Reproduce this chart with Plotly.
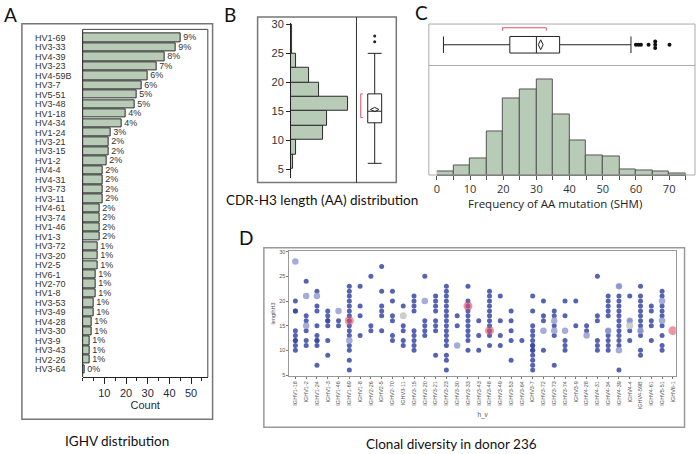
import plotly.graph_objects as go

W, H = 696, 454

# ---------------- Panel A: IGHV distribution ----------------
a_genes = ["HV1-69", "HV3-33", "HV4-39", "HV3-23", "HV4-59B", "HV3-7", "HV5-51", "HV3-48",
           "HV1-18", "HV4-34", "HV1-24", "HV3-21", "HV3-15", "HV1-2", "HV4-4", "HV4-31",
           "HV3-73", "HV3-11", "HV4-61", "HV3-74", "HV1-46", "HV1-3", "HV3-72", "HV3-20",
           "HV2-5", "HV6-1", "HV2-70", "HV1-8", "HV3-53", "HV3-49", "HV4-28", "HV3-30",
           "HV3-9", "HV3-43", "HV2-26", "HV3-64"]
a_counts = [45, 43, 38, 34, 30, 27, 25, 24, 20, 18, 13, 12, 12, 11, 9, 9, 9, 9, 8, 8, 8, 8,
            7, 7, 7, 6, 6, 6, 5, 5, 4, 4, 3, 3, 3, 1]
a_ticks = [10, 20, 30, 40, 50]

# ---------------- Panel B: CDR-H3 length ----------------
b_bin_start = [5, 7.5, 10, 12.5, 15, 17.5, 20, 22.5, 25, 27.5]
b_counts = [6, 13, 84, 95, 149, 74, 48, 12, 3, 2]
b_bin_width = 2.5
b_q1, b_median, b_q3 = 13, 15, 18
b_low, b_high, b_mean = 6, 25, 15.3
b_outliers = [27, 28]
b_shortest_half = [13.9, 18]
b_ticks = [5, 10, 15, 20, 25, 30]

# ---------------- Panel C: SHM frequency ----------------
c_bin_start = [0, 5, 10, 15, 20, 25, 30, 35, 40, 45, 50, 55, 60, 65, 70]
c_counts = [4, 10, 17, 44, 77, 86, 97, 61, 35, 20, 19, 6, 5, 4, 2]
c_bin_width = 5
c_q1, c_median, c_q3 = 22, 30, 37
c_low, c_high, c_mean = 2, 58.5, 31.3
c_outliers = [60.0, 60.8, 61.5, 63.8, 65.8, 65.8, 65.8, 70.1]
c_outlier_jitter = [0, 0, 0, 0, 0.16, 0, -0.16, 0]
c_shortest_half = [19.8, 33]
c_ticks = [0, 10, 20, 30, 40, 50, 60, 70]

# ---------------- Panel D: clonal diversity ----------------
d_genes = ["IGHV1-18", "IGHV1-2", "IGHV1-24", "IGHV1-3", "IGHV1-46", "IGHV1-69", "IGHV1-8",
           "IGHV2-26", "IGHV2-5", "IGHV2-70", "IGHV3-11", "IGHV3-15", "IGHV3-20", "IGHV3-21",
           "IGHV3-23", "IGHV3-30", "IGHV3-33", "IGHV3-43", "IGHV3-48", "IGHV3-49", "IGHV3-53",
           "IGHV3-64", "IGHV3-7", "IGHV3-72", "IGHV3-73", "IGHV3-74", "IGHV3-9", "IGHV4-28",
           "IGHV4-31", "IGHV4-34", "IGHV4-39", "IGHV4-4", "IGHV4-59B", "IGHV4-61", "IGHV5-51",
           "IGHV6-1"]
d_dark = [
    [20, 18, 18, 14, 13, 12, 12, 11, 10],
    [24, 17, 16, 14, 12, 11],
    [22, 19, 18, 15, 13, 12, 12, 11, 7],
    [18, 17, 16, 16, 15, 12, 9],
    [16, 15],
    [23, 22, 21, 20, 19, 18, 17, 16, 15, 14, 13, 11, 10, 8, 6],
    [23, 19, 17, 13],
    [25, 15, 14],
    [27, 22, 19, 18, 17, 14],
    [22, 20, 17, 16, 13, 12],
    [19, 15, 14, 12, 11],
    [21, 20, 19, 18, 14, 13, 12, 11, 10],
    [25, 16, 15, 14, 13],
    [21, 20, 19, 18, 16, 15, 14, 9],
    [23, 22, 21, 20, 19, 18, 17, 16, 15, 14, 13, 12, 11, 9, 8, 6],
    [17, 15],
    [23, 20, 19, 18, 17, 16, 15, 14, 13, 12, 10],
    [16, 13, 10],
    [22, 21, 20, 19, 18, 17, 16, 15, 14, 13, 11],
    [21, 16, 13, 11],
    [18, 16, 14, 12, 8],
    [12],
    [21, 18, 15, 14, 13, 12, 11, 11, 10, 10, 9, 8, 7, 6],
    [20, 17, 16, 10],
    [18, 17, 15, 13, 7],
    [20, 17, 12, 11, 10],
    [20, 15],
    [15, 14],
    [25, 17, 16, 12, 11, 10],
    [21, 20, 19, 18, 17, 14, 13, 12, 11, 10],
    [23, 21, 20, 19, 18, 17, 16, 15, 14, 13, 12, 11, 6],
    [21, 16, 14, 12],
    [23, 21, 20, 19, 18, 17, 16, 15, 14, 13, 10, 9],
    [19, 18, 16, 15, 12],
    [22, 21, 19, 18, 17, 15, 13, 11, 10],
    [],
]
d_light = {"IGHV1-18": [28], "IGHV1-2": [21, 15], "IGHV1-24": [21], "IGHV1-46": [18],
           "IGHV1-69": [12], "IGHV3-20": [20], "IGHV3-30": [11], "IGHV3-72": [14],
           "IGHV3-73": [16, 14], "IGHV3-74": [14], "IGHV4-28": [13], "IGHV4-34": [14],
           "IGHV4-39": [23, 10], "IGHV4-4": [16], "IGHV4-59B": [14], "IGHV5-51": [20, 16]}
d_gray = {"IGHV3-11": [17], "IGHV4-4": [15]}
d_red = {"IGHV1-69": [16], "IGHV3-33": [19], "IGHV3-48": [14], "IGHV6-1": [14]}
d_ticks = [5, 10, 15, 20, 25, 30]


def px(x):
    return x / W


def py(y):
    return 1 - y / H


CHART_FONT = "Liberation Sans"
CAP_FONT = "Lato"
SAGE = "#b8cbb6"

fig = go.Figure()

# ---- A bars ----
total = sum(a_counts)
a_pct = [f"{round(100 * c / total)}%" for c in a_counts]
fig.add_trace(go.Bar(
    y=a_genes, x=a_counts, orientation="h", xaxis="x", yaxis="y", width=0.88,
    marker=dict(color=SAGE, line=dict(color="#2b2b2b", width=1)),
    text=a_pct, textposition="outside", constraintext="none", cliponaxis=False,
    textfont=dict(family=CHART_FONT, size=9, color="#333"), showlegend=False,
    hoverinfo="skip"))

# ---- B histogram ----
b_centers = [s + b_bin_width / 2 for s in b_bin_start]
fig.add_trace(go.Bar(
    y=b_centers, x=b_counts, orientation="h", width=b_bin_width, xaxis="x2", yaxis="y2",
    marker=dict(color=SAGE, line=dict(color="#2b2b2b", width=1)), showlegend=False))

# ---- B box ----
fig.add_trace(go.Box(
    x=[0], q1=[b_q1], median=[b_median], q3=[b_q3], lowerfence=[b_low], upperfence=[b_high],
    orientation="v", width=0.7, whiskerwidth=1, fillcolor="white",
    line=dict(color="#222", width=1), boxpoints=False, xaxis="x3", yaxis="y3",
    showlegend=False))
fig.add_trace(go.Scatter(
    x=[0], y=[b_mean], mode="markers", xaxis="x3", yaxis="y3",
    marker=dict(symbol="diamond-wide-open", size=6, color="#222", line=dict(width=1)),
    showlegend=False))
fig.add_trace(go.Scatter(
    x=[0] * len(b_outliers), y=b_outliers, mode="markers", xaxis="x3", yaxis="y3",
    marker=dict(size=3, color="#222"), showlegend=False))
fig.add_trace(go.Scatter(
    x=[-0.6, -0.7, -0.7, -0.6], y=[b_shortest_half[1], b_shortest_half[1],
                                    b_shortest_half[0], b_shortest_half[0]],
    mode="lines", xaxis="x3", yaxis="y3", line=dict(color="#e0506a", width=1),
    showlegend=False))

# ---- C box ----
fig.add_trace(go.Box(
    y=[0], q1=[c_q1], median=[c_median], q3=[c_q3], lowerfence=[c_low], upperfence=[c_high],
    orientation="h", width=0.8, whiskerwidth=1, fillcolor="white",
    line=dict(color="#222", width=1), boxpoints=False, xaxis="x4", yaxis="y4",
    showlegend=False))
fig.add_trace(go.Scatter(
    x=[c_mean], y=[0], mode="markers", xaxis="x4", yaxis="y4",
    marker=dict(symbol="diamond-tall-open", size=7, color="#222", line=dict(width=1)),
    showlegend=False))
fig.add_trace(go.Scatter(
    x=c_outliers, y=c_outlier_jitter, mode="markers", xaxis="x4", yaxis="y4",
    marker=dict(size=4, color="#111"), showlegend=False))
fig.add_trace(go.Scatter(
    x=[c_shortest_half[0], c_shortest_half[0], c_shortest_half[1], c_shortest_half[1]],
    y=[0.68, 0.82, 0.82, 0.68], mode="lines", xaxis="x4", yaxis="y4",
    line=dict(color="#e0506a", width=1), showlegend=False))

# ---- C histogram ----
c_centers = [s + c_bin_width / 2 for s in c_bin_start]
fig.add_trace(go.Bar(
    x=c_centers, y=c_counts, width=c_bin_width, xaxis="x5", yaxis="y5",
    marker=dict(color=SAGE, line=dict(color="#555", width=1)), showlegend=False))

# ---- D scatter ----
dx, dy = [], []
for g, vals in zip(d_genes, d_dark):
    for v in vals:
        dx.append(g)
        dy.append(v)
fig.add_trace(go.Scatter(
    x=dx, y=dy, mode="markers", xaxis="x6", yaxis="y6",
    marker=dict(size=5, color="rgba(55,72,165,0.85)"), showlegend=False))


def flat(d):
    xs, ys = [], []
    for g, vals in d.items():
        for v in vals:
            xs.append(g)
            ys.append(v)
    return xs, ys


lx, ly = flat(d_light)
fig.add_trace(go.Scatter(x=lx, y=ly, mode="markers", xaxis="x6", yaxis="y6",
                         marker=dict(size=6.5, color="rgba(150,158,212,0.85)"),
                         showlegend=False))
gx, gy = flat(d_gray)
fig.add_trace(go.Scatter(x=gx, y=gy, mode="markers", xaxis="x6", yaxis="y6",
                         marker=dict(size=7, color="rgba(200,200,200,0.9)"),
                         showlegend=False))
rx, ry = flat(d_red)
fig.add_trace(go.Scatter(x=rx, y=ry, mode="markers", xaxis="x6", yaxis="y6",
                         marker=dict(size=9, color="rgba(222,80,100,0.6)"),
                         showlegend=False))

axis_font = dict(family=CHART_FONT, size=11, color="#2a2a3a")

fig.update_layout(
    width=W, height=H, autosize=False, margin=dict(l=0, r=0, t=0, b=0),
    paper_bgcolor="white", plot_bgcolor="white", showlegend=False, bargap=0,
    # A
    xaxis=dict(domain=[px(80), px(205.7)], range=[0, 57.7], anchor="y",
               tickvals=a_ticks, ticks="outside", ticklen=6, tickcolor="#222",
               minor=dict(dtick=5, tick0=0, ticks="outside", ticklen=3, tickcolor="#222"),
               showline=True, linecolor="#222", linewidth=1, showgrid=False, zeroline=False,
               tickfont=axis_font,
               title=dict(text="Count", font=axis_font, standoff=2)),
    yaxis=dict(domain=[py(378), py(25.7)], type="category", categoryarray=a_genes,
               range=[35.83, -0.9], anchor="x", showticklabels=False, ticks="",
               showline=False, showgrid=False, zeroline=False),
    # B hist
    xaxis2=dict(domain=[px(289.3), px(355)], range=[0, 170.5], anchor="y2", visible=False),
    yaxis2=dict(domain=[py(176.7), py(19)], range=[3.4, 30.29], anchor="x2",
                tickvals=b_ticks, ticks="outside", ticklen=4, tickcolor="#222",
                showline=True, linecolor="#222", showgrid=False, zeroline=False,
                tickfont=dict(family=CHART_FONT, size=11, color="#333")),
    # B box
    xaxis3=dict(domain=[px(355), px(395)], range=[-0.915, 1.085], anchor="y3", visible=False),
    yaxis3=dict(domain=[py(176.7), py(19)], range=[3.4, 30.29], anchor="x3", visible=False),
    # C box
    xaxis4=dict(domain=[px(435.7), px(685.7)], range=[0, 75], anchor="y4", visible=False),
    yaxis4=dict(domain=[py(62.3), py(20.3)], range=[-1, 1], anchor="x4", visible=False),
    # C hist
    xaxis5=dict(domain=[px(435.7), px(685.7)], range=[0, 75], anchor="y5",
                tickvals=c_ticks, ticks="outside", ticklen=4, tickcolor="#555",
                minor=dict(dtick=5, tick0=0, ticks="outside", ticklen=4, tickcolor="#555"),
                showline=True, linecolor="#555", showgrid=False, zeroline=False,
                tickfont=dict(family="Open Sans", size=11, color="#333")),
    yaxis5=dict(domain=[py(173.3), py(62.3)], range=[0, 110.7], anchor="x5", visible=False),
    # D
    xaxis6=dict(domain=[px(287.7), px(675.7)], type="category", categoryarray=d_genes,
                range=[-0.55, 35.27], anchor="y6", tickangle=-90, ticks="outside",
                ticklen=2, tickcolor="#777", showline=True, linecolor="#999", mirror=True,
                showgrid=False, zeroline=False,
                tickfont=dict(family=CHART_FONT, size=5.5, color="#555"),
                title=dict(text="h_v", font=dict(family=CHART_FONT, size=6.5, color="#555"),
                           standoff=4)),
    yaxis6=dict(domain=[py(377), py(250)], range=[4.8, 30.2], anchor="x6",
                tickvals=d_ticks, ticks="outside", ticklen=2, tickcolor="#777",
                showline=True, linecolor="#999", mirror=True, showgrid=False, zeroline=False,
                tickfont=dict(family=CHART_FONT, size=5.5, color="#555"),
                title=dict(text="lengthH3", font=dict(family=CHART_FONT, size=5.5, color="#555"),
                           standoff=3)),
)

shapes = []


def rect(x0, y0, x1, y1, color, width):
    shapes.append(dict(type="rect", xref="paper", yref="paper", x0=px(x0), x1=px(x1),
                       y0=py(y1), y1=py(y0), line=dict(color=color, width=width),
                       fillcolor="rgba(0,0,0,0)", layer="above"))


def line(x0, y0, x1, y1, color, width):
    shapes.append(dict(type="line", xref="paper", yref="paper", x0=px(x0), x1=px(x1),
                       y0=py(y0), y1=py(y1), line=dict(color=color, width=width),
                       layer="above"))


# A frames
rect(19, 20, 210.5, 420.7, "#777", 1.5)
line(80, 25.7, 205.7, 25.7, "#444", 1)
line(205.7, 25.7, 205.7, 378, "#444", 1)
line(80, 25.7, 80, 378, "#222", 1)
# B frames
rect(255.7, 13.3, 395, 181, "#777", 1.5)
line(355, 13.3, 355, 181, "#333", 1)
# C frames
rect(427.7, 20.3, 695, 173.3, "#aaa", 1)
line(427.7, 62.3, 695, 62.3, "#aaa", 1)
# D frame
rect(262, 247, 684.5, 429, "#999", 1.5)

annotations = []
for g in a_genes:
    annotations.append(dict(x=px(30), xref="paper", y=g, yref="y", text=g, showarrow=False,
                            xanchor="left", yanchor="middle",
                            font=dict(family=CHART_FONT, size=9, color="#333")))


def label(text, x, y, size, family=CAP_FONT, color="#111"):
    annotations.append(dict(x=px(x), y=py(y), xref="paper", yref="paper", text=text,
                            showarrow=False, xanchor="center", yanchor="middle",
                            font=dict(family=family, size=size, color=color)))


label("A", 8, 11, 19)
label("B", 228, 11, 19)
label("C", 420, 9, 19)
label("D", 244, 237, 19)
label("IGHV distribution", 114, 443, 13.5)
label("CDR-H3 length (AA) distribution", 320, 199, 13.5)
label("Frequency of AA mutation (SHM)", 554, 202, 11.5, family="Open Sans", color="#222")
label("Clonal diversity in donor 236", 450, 446, 13.5)

fig.update_layout(shapes=shapes, annotations=annotations)

fig.write_html("out.html", config={"displayModeBar": False},
               post_script="document.body.style.margin='0';")
